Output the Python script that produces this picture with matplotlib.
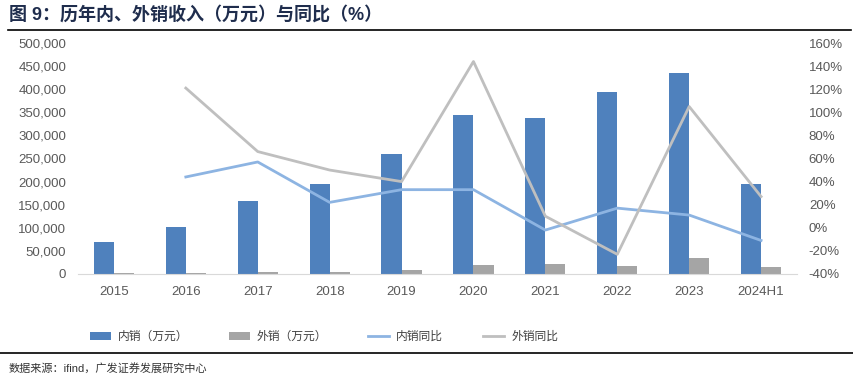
import matplotlib.pyplot as plt
import numpy as np
from matplotlib.ticker import FuncFormatter

plt.rcParams['font.family'] = ['Liberation Sans', 'Noto Sans CJK SC', 'DejaVu Sans']

years = ['2015', '2016', '2017', '2018', '2019', '2020', '2021', '2022', '2023', '2024H1']
domestic = [70000, 101000, 158000, 195000, 260000, 344000, 338000, 394000, 435000, 195000]
export = [1000, 2000, 3500, 5000, 7500, 20000, 22000, 16500, 35000, 16000]
dom_yoy = [None, 44, 57, 22, 33, 33, -2, 17, 11, -11]
exp_yoy = [None, 121, 66, 50, 40, 144, 10, -23, 105, 27]

fig = plt.figure(figsize=(8.54, 3.81), dpi=100)
ax = fig.add_axes([0.0913, 0.281, 0.842, 0.606])
ax2 = ax.twinx()

x = np.arange(len(years))
w = 0.28
ax.bar(x - w / 2, domestic, w, color='#4F81BD', label='内销（万元）', zorder=2)
ax.bar(x + w / 2, export, w, color='#A5A5A5', label='外销（万元）', zorder=2)

xd = [i for i, v in enumerate(dom_yoy) if v is not None]
ax2.plot(xd, [dom_yoy[i] for i in xd], color='#8DB4E2', lw=2, label='内销同比')
xe = [i for i, v in enumerate(exp_yoy) if v is not None]
ax2.plot(xe, [exp_yoy[i] for i in xe], color='#BFBFBF', lw=2, label='外销同比')

ax.set_xlim(-0.5, len(years) - 0.5)
ax.set_ylim(0, 500000)
ax.set_yticks(np.arange(0, 500001, 50000))
ax.yaxis.set_major_formatter(FuncFormatter(lambda v, p: f'{int(v):,}'))
ax2.set_ylim(-40, 160)
ax2.set_yticks(np.arange(-40, 161, 20))
ax2.yaxis.set_major_formatter(FuncFormatter(lambda v, p: f'{int(v)}%'))
ax.set_xticks(x)
ax.set_xticklabels(years)

for a in (ax, ax2):
    for s in a.spines.values():
        s.set_visible(False)
    a.tick_params(length=0, labelsize=9.5, colors='#595959')
ax.spines['bottom'].set_visible(True)
ax.spines['bottom'].set_color('#D9D9D9')
ax.tick_params(axis='x', pad=9)
ax.tick_params(axis='y', pad=8.5)
ax2.tick_params(axis='y', pad=8.5)

h1, l1 = ax.get_legend_handles_labels()
h2, l2 = ax2.get_legend_handles_labels()
fig.legend(h1 + h2, l1 + l2, loc='center left', bbox_to_anchor=(0.105, 0.115), ncol=4,
           frameon=False, fontsize=8.5, handlelength=1.8, handletextpad=0.6,
           columnspacing=3.4, labelcolor='#404040', borderpad=0, borderaxespad=0)

fig.text(0.010, 0.962, '图 9：历年内、外销收入（万元）与同比（%）', fontsize=13,
         fontweight='bold', color='#1F2D4D', va='center')
fig.add_artist(plt.Line2D([0.009, 0.996], [0.921, 0.921], color='black', lw=1.2,
                          transform=fig.transFigure))
fig.add_artist(plt.Line2D([0.0, 1.0], [0.073, 0.073], color='black', lw=1.2,
                          transform=fig.transFigure))
fig.text(0.010, 0.034, '数据来源：ifind，广发证券发展研究中心', fontsize=8,
         color='#333333', va='center')

fig.savefig('out.png', dpi=100)
